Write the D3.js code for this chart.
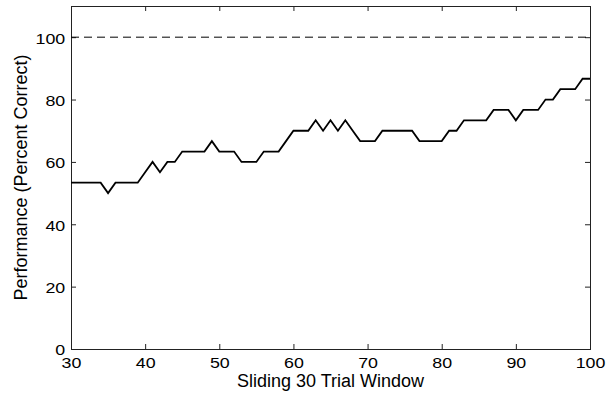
<!DOCTYPE html>
<html>
<head>
<meta charset="utf-8">
<script src="https://cdn.jsdelivr.net/npm/d3@7"></script>
<style>
  body { margin: 0; background: #fff; }
  svg { display: block; }
  text { font-family: "Liberation Sans", Arial, sans-serif; fill: #000; }
</style>
</head>
<body>
<svg id="chart" width="615" height="393"></svg>
<script>
// window index (x axis)
const windows = d3.range(30, 101)
// percent correct in each sliding window
const perf = [
  53.33, 53.33, 53.33, 53.33, 53.33, 50.00, 53.33, 53.33, 53.33, 53.33,  // 30-39
  56.67, 60.00, 56.67, 60.00, 60.00, 63.33, 63.33, 63.33, 63.33, 66.67,  // 40-49
  63.33, 63.33, 63.33, 60.00, 60.00, 60.00, 63.33, 63.33, 63.33, 66.67,  // 50-59
  70.00, 70.00, 70.00, 73.33, 70.00, 73.33, 70.00, 73.33, 70.00, 66.67,  // 60-69
  66.67, 66.67, 70.00, 70.00, 70.00, 70.00, 70.00, 66.67, 66.67, 66.67,  // 70-79
  66.67, 70.00, 70.00, 73.33, 73.33, 73.33, 73.33, 76.67, 76.67, 76.67,  // 80-89
  73.33, 76.67, 76.67, 76.67, 80.00, 80.00, 83.33, 83.33, 83.33, 86.67,  // 90-99
  86.67                                                                  // 100
]
const refLevel = 100
const xTicks = [30, 40, 50, 60, 70, 80, 90, 100]
const yTicks = [0, 20, 40, 60, 80, 100]

const svg = d3.select('#chart')
const margin = {top: 6, right: 25, bottom: 44, left: 71}
const W = +svg.attr('width') - margin.left - margin.right
const H = +svg.attr('height') - margin.top - margin.bottom

const g = svg.append('g').attr('transform', `translate(${margin.left},${margin.top})`)

const x = d3.scaleLinear().domain([30, 100]).range([0, W])
const y = d3.scaleLinear().domain([0, 110]).range([H, 0])

/* axes, matlab style: ticks point inward, mirrored on top/right */
const styleAxis = sel => {
  sel.select('.domain').remove()
  sel.selectAll('line').attr('stroke', '#222')
}
// the figure's font is a bit wider than Arial, stretch tick labels sideways
const tickText = sel => sel.selectAll('text')
  .style('font-size', '15.5px')
  .attr('transform', 'scale(1.15,1)')

g.append('g').attr('transform', `translate(0,${H})`)
  .call(d3.axisBottom(x).tickValues(xTicks).tickSizeInner(-5).tickSizeOuter(0).tickPadding(8))
  .call(styleAxis)
  .call(tickText)

g.append('g')
  .call(d3.axisTop(x).tickValues(xTicks).tickSizeInner(-5).tickSizeOuter(0).tickFormat(''))
  .call(styleAxis)

g.append('g')
  .call(d3.axisLeft(y).tickValues(yTicks).tickSizeInner(-5).tickSizeOuter(0).tickPadding(5))
  .call(styleAxis)
  .call(tickText)
  .selectAll('text').attr('dy', '0.38em')

g.append('g').attr('transform', `translate(${W},0)`)
  .call(d3.axisRight(y).tickValues(yTicks).tickSizeInner(-5).tickSizeOuter(0).tickFormat(''))
  .call(styleAxis)

/* frame */
g.append('rect')
  .attr('x', 0.5).attr('y', 0.5)
  .attr('width', W).attr('height', H)
  .attr('fill', 'none')
  .attr('stroke', '#222')
  .attr('stroke-width', 1)

/* 100% reference, dashed */
g.append('line')
  .attr('x1', x(30)).attr('x2', x(100))
  .attr('y1', y(refLevel)).attr('y2', y(refLevel))
  .attr('stroke', '#000')
  .attr('stroke-width', 1)
  .attr('stroke-dasharray', '8,5')

/* performance curve */
const line = d3.line().x((d, i) => x(windows[i])).y(d => y(d))
g.append('path')
  .datum(perf)
  .attr('d', line)
  .attr('fill', 'none')
  .attr('stroke', '#000')
  .attr('stroke-width', 1.8)
  .attr('stroke-linejoin', 'miter')

/* axis labels */
g.append('text')
  .attr('x', W / 2).attr('y', H + 38)
  .attr('text-anchor', 'middle')
  .style('font-size', '18px')
  .text('Sliding 30 Trial Window')

g.append('text')
  .attr('transform', `translate(${27 - margin.left},${H / 2}) rotate(-90)`)
  .attr('text-anchor', 'middle')
  .style('font-size', '18px')
  .text('Performance (Percent Correct)')
</script>
</body>
</html>
